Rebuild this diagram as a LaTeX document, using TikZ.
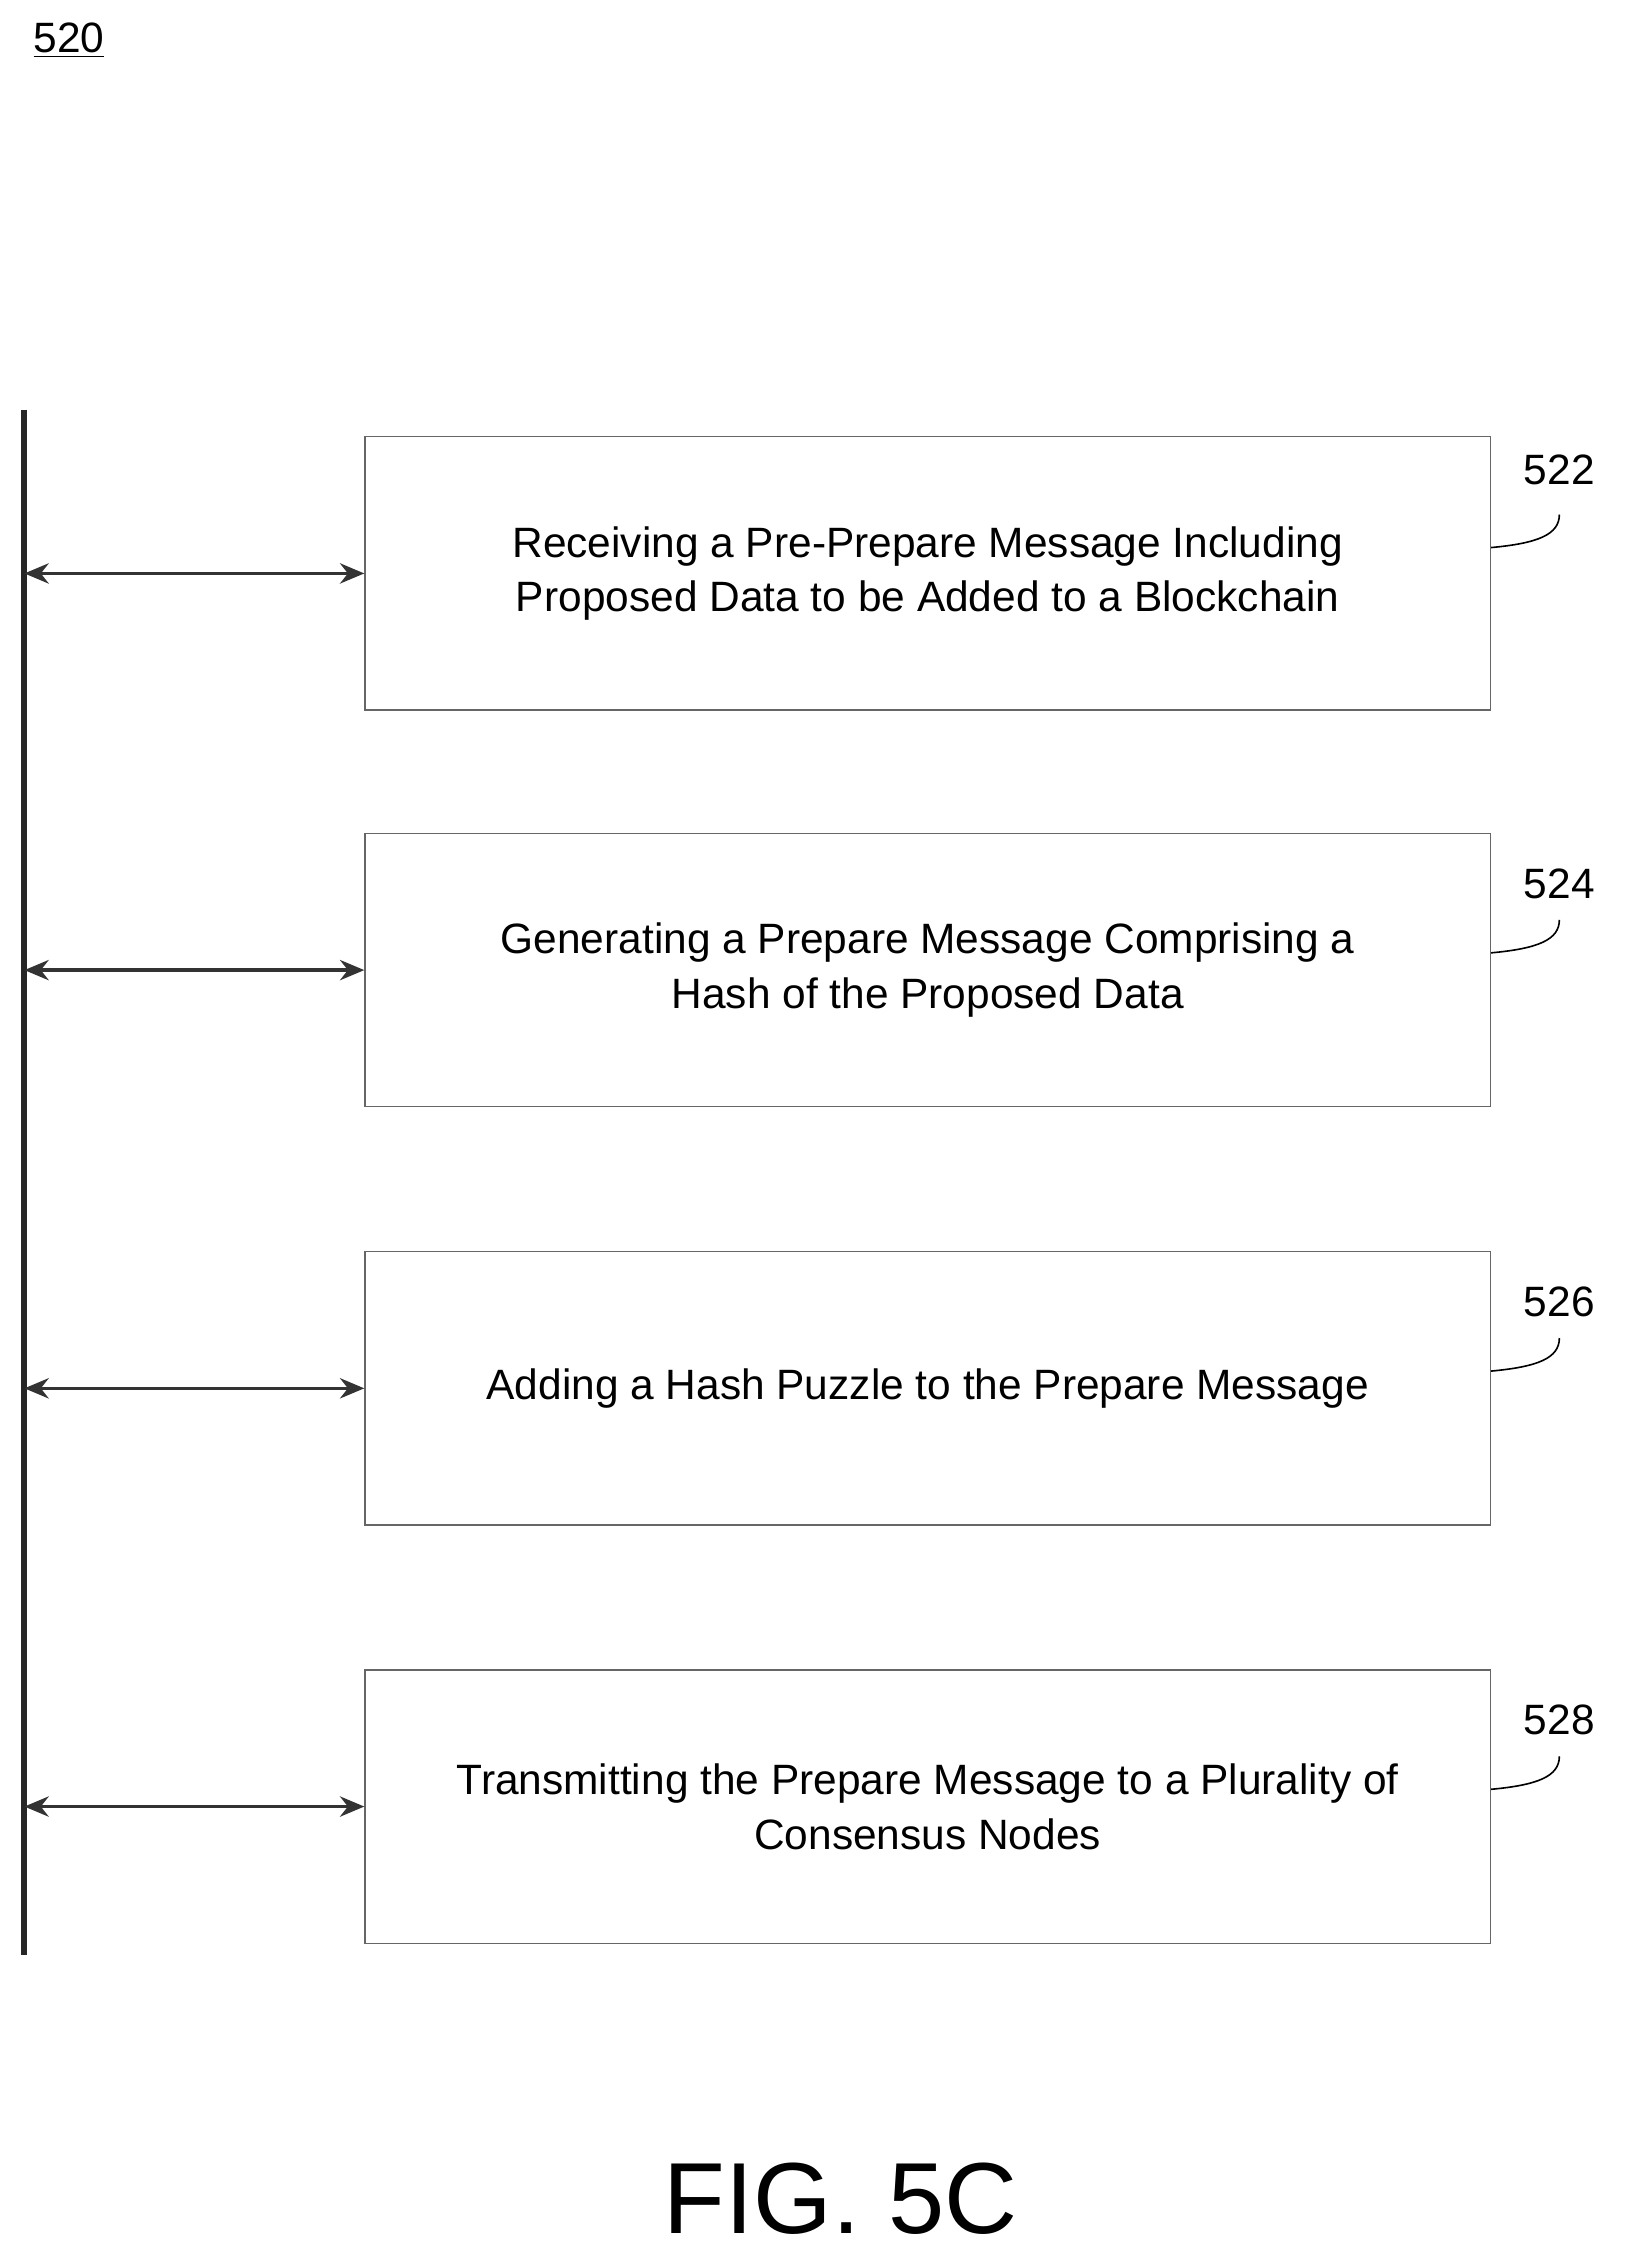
\documentclass[tikz,border=0pt]{standalone}
\usepackage{fontspec}
\setmainfont{Liberation Sans}
\usetikzlibrary{arrows.meta}
\tikzset{
  stepbox/.style={draw=black!60, line width=0.6pt, minimum width=19.575cm, minimum height=4.75cm, align=center, font=\fontsize{21}{27}\selectfont, inner sep=0pt},
  link/.style={{Stealth[length=12pt,width=10pt]}-{Stealth[length=12pt,width=10pt]}, line width=1.8pt, black!80},
  ref/.style={font=\fontsize{21}{25}\selectfont},
  lead/.style={line width=0.8pt}
}
\begin{document}
\begin{tikzpicture}[x=0.025cm,y=-0.025cm]
    \useasboundingbox (0,0) rectangle (1130,1576);
    \node[ref] (n520) at (48,28) {\underline{520}};
    \coordinate (top) at (17,285);
    \coordinate (bot) at (17,1360);
    \draw [line width=3pt, black!85] (top) -- (bot);
    \node[stepbox] (b522) at (645.5,399) {Receiving a Pre-Prepare Message Including\\Proposed Data to be Added to a Blockchain};
    \node[stepbox] (b524) at (645.5,675) {Generating a Prepare Message Comprising a\\Hash of the Proposed Data};
    \node[stepbox] (b526) at (645.5,966) {Adding a Hash Puzzle to the Prepare Message};
    \node[stepbox] (b528) at (645.5,1257) {Transmitting the Prepare Message to a Plurality of\\Consensus Nodes};
    \coordinate (a522) at (17,399);
    \coordinate (a524) at (17,675);
    \coordinate (a526) at (17,966);
    \coordinate (a528) at (17,1257);
    \draw [link] (a522) -- (b522.west);
    \draw [link] (a524) -- (b524.west);
    \draw [link] (a526) -- (b526.west);
    \draw [link] (a528) -- (b528.west);
    \node[ref] (l522) at (1085,327) {522};
    \node[ref] (l524) at (1085,615) {524};
    \node[ref] (l526) at (1085,906) {526};
    \node[ref] (l528) at (1085,1197) {528};
    \draw [lead] (b522.east |- 0,381) .. controls (1070,378) and (1085,372) .. (1085,358);
    \draw [lead] (b524.east |- 0,663) .. controls (1070,660) and (1085,654) .. (1085,640);
    \draw [lead] (b526.east |- 0,954) .. controls (1070,951) and (1085,945) .. (1085,931);
    \draw [lead] (b528.east |- 0,1245) .. controls (1070,1242) and (1085,1236) .. (1085,1222);
    \node[font=\fontsize{50}{56}\selectfont] (fig) at (585,1530) {FIG. 5C};
\end{tikzpicture}
\end{document}
